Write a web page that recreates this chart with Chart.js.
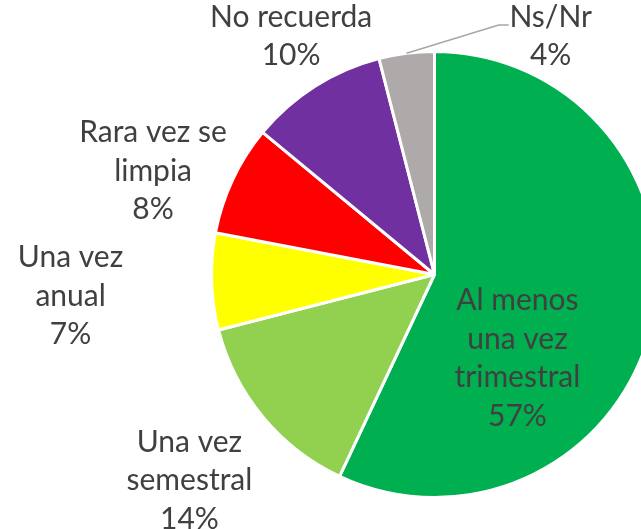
<!DOCTYPE html>
<html>
<head>
<meta charset="utf-8">
<script src="https://cdn.jsdelivr.net/npm/chart.js@4/dist/chart.umd.min.js"></script>
<style>
  html, body { margin: 0; padding: 0; background: #ffffff; overflow: hidden; width: 641px; height: 529px; }
  #wrap { position: absolute; left: 0; top: 0; width: 869px; height: 529px; }
</style>
</head>
<body>
<div id="wrap"><canvas id="c"></canvas></div>
<script>
// ---- Data ----
const categories = [
  ["Al menos", "una vez", "trimestral"],
  ["Una vez", "semestral"],
  ["Una vez", "anual"],
  ["Rara vez se", "limpia"],
  ["No recuerda"],
  ["Ns/Nr"]
];
const values = [57, 14, 7, 8, 10, 4];
const percentLabels = ["57%", "14%", "7%", "8%", "10%", "4%"];

// ---- Styles / positions (label centre offsets as fraction of radius) ----
const colors = ["#00B050", "#92D050", "#FFFF00", "#FF0000", "#7030A0", "#AEAAAA"];
const labelOffsets = [
  [0.372, 0.375],
  [-1.099, 0.923],
  [-1.632, 0.097],
  [-1.262, -0.463],
  [-0.643, -1.068],
  [0.521, -1.068]
];
const leaderIndex = 5;

const labelPlugin = {
  id: 'pieLabels',
  afterDatasetsDraw(chart) {
    const ctx = chart.ctx;
    const meta = chart.getDatasetMeta(0);
    ctx.save();
    ctx.font = '30px Lato, "Open Sans", sans-serif';
    ctx.fillStyle = '#404040';
    ctx.textAlign = 'center';
    ctx.textBaseline = 'middle';
    const lh = 38.5;
    meta.data.forEach((arc, i) => {
      const p = arc.getProps(['x', 'y', 'startAngle', 'endAngle', 'outerRadius'], true);
      const R = p.outerRadius;
      const lines = categories[i].concat([percentLabels[i]]);
      const cx = p.x + labelOffsets[i][0] * R;
      const cy = p.y + labelOffsets[i][1] * R;
      const y0 = cy - (lines.length - 1) * lh / 2;
      lines.forEach((t, k) => ctx.fillText(t, cx, y0 + k * lh));
      if (i === leaderIndex) {
        const mid = (p.startAngle + p.endAngle) / 2;
        const sx = p.x + Math.cos(mid) * R;
        const sy = p.y + Math.sin(mid) * R;
        const ey = y0 + 8;
        ctx.strokeStyle = '#A6A6A6';
        ctx.lineWidth = 1.5;
        ctx.beginPath();
        ctx.moveTo(sx, sy);
        ctx.lineTo(cx - 52, ey);
        ctx.lineTo(cx - 42, ey);
        ctx.stroke();
      }
    });
    ctx.restore();
  }
};

new Chart(document.getElementById('c'), {
  type: 'pie',
  data: {
    labels: categories.map(c => c.join(' ')),
    datasets: [{
      data: values,
      backgroundColor: colors,
      borderColor: '#ffffff',
      borderWidth: 3
    }]
  },
  options: {
    responsive: true,
    maintainAspectRatio: false,
    animation: false,
    layout: { padding: { top: 50, bottom: 30, left: 0, right: 0 } },
    plugins: {
      legend: { display: false },
      tooltip: { enabled: false }
    }
  },
  plugins: [labelPlugin]
});
</script>
</body>
</html>
